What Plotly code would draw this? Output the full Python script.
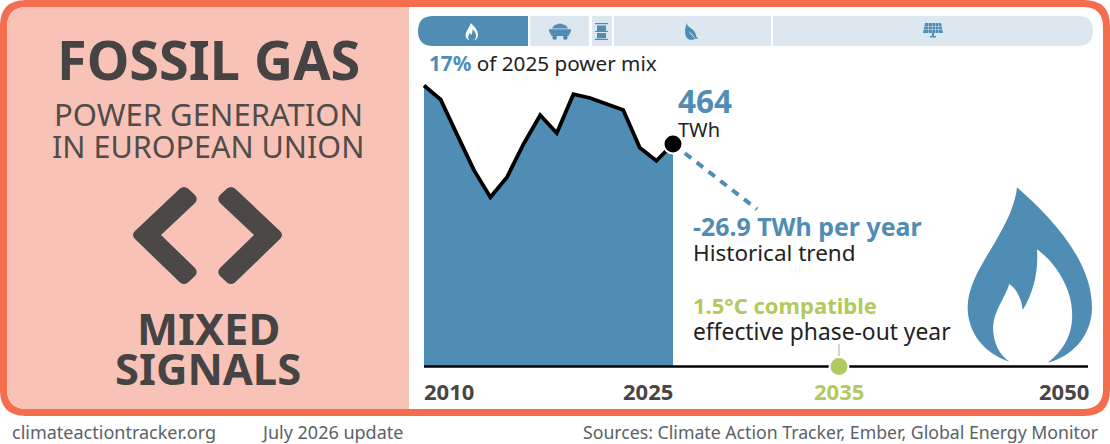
import re
import plotly.graph_objects as go

# ---- data ----
years = [2010, 2011, 2012, 2013, 2014, 2015, 2016, 2017, 2018, 2019, 2020, 2021, 2022, 2023, 2024, 2025]
generation_twh = [586, 557, 483, 410, 353, 395, 464, 524, 487, 568, 560, 547, 535, 456, 429, 464]
trend_years = [2025, 2030.06]
trend_twh = [464, 328]
axis_years = [2010, 2025, 2035, 2050]
axis_anchor = ["left", "right", "center", "right"]
axis_shift = [-2, 2, 0, 3]
axis_colors = ["#4a4545", "#4a4545", "#b2c95f", "#4a4545"]
phaseout_year = [2035]
phaseout_twh = [0]

W, H = 1110, 444
BASE_Y, PX_YEAR, PX_TWH = 366.5, 16.6, 0.4795
X0 = 2010 - 424 / PX_YEAR
Y_MIN = -(H - BASE_Y) / PX_TWH
Y_MAX = BASE_Y / PX_TWH

BLUE = "#4f8db5"
LIGHT = "#dce7f0"
CORAL = "#f46d4e"
PINK = "#f9c2b6"
GREEN = "#b2c95f"
DARK = "#454343"
INK = "#222222"
FONT = "Noto Sans"


def P(path):
    """Pixel path -> paper path."""
    toks = re.findall(r"[MLCQZ]|-?[\d.]+", path)
    out, is_x = [], True
    for t in toks:
        if t in "MLCQZ":
            out.append(t)
            is_x = True
        else:
            v = float(t)
            out.append(f"{v / W:.5f}" if is_x else f"{1 - v / H:.5f}")
            is_x = not is_x
    return " ".join(out)


shapes = []


def add(path, fill, line=None, lw=0):
    shapes.append(dict(type="path", xref="paper", yref="paper", path=P(path), fillcolor=fill,
                       line=dict(color=line or fill, width=lw), layer="below"))


def rrect(x0, y0, x1, y1, rl=0, rr=0):
    return (f"M {x0 + rl} {y0} L {x1 - rr} {y0} Q {x1} {y0} {x1} {y0 + rr} L {x1} {y1 - rr} "
            f"Q {x1} {y1} {x1 - rr} {y1} L {x0 + rl} {y1} Q {x0} {y1} {x0} {y1 - rl} L {x0} {y0 + rl} "
            f"Q {x0} {y0} {x0 + rl} {y0} Z")


def rpanel(x0, y0, x1, y1, rtl, rtr, rbr, rbl):
    return (f"M {x0 + rtl} {y0} L {x1 - rtr} {y0} Q {x1} {y0} {x1} {y0 + rtr} L {x1} {y1 - rbr} "
            f"Q {x1} {y1} {x1 - rbr} {y1} L {x0 + rbl} {y1} Q {x0} {y1} {x0} {y1 - rbl} L {x0} {y0 + rtl} "
            f"Q {x0} {y0} {x0 + rtl} {y0} Z")


def rect(x0, y0, x1, y1):
    return f"M {x0} {y0} L {x1} {y0} L {x1} {y1} L {x0} {y1} Z"


def circle(cx, cy, r):
    k = r * 0.5523
    return (f"M {cx - r} {cy} C {cx - r} {cy - k} {cx - k} {cy - r} {cx} {cy - r} "
            f"C {cx + k} {cy - r} {cx + r} {cy - k} {cx + r} {cy} "
            f"C {cx + r} {cy + k} {cx + k} {cy + r} {cx} {cy + r} "
            f"C {cx - k} {cy + r} {cx - r} {cy + k} {cx - r} {cy} Z")


# frame
add(rrect(0, 0, 1110, 416, 26, 26), CORAL)
add(rrect(7, 7, 1103, 409, 20, 20), "#ffffff")
add(rpanel(7, 7, 409, 409, 20, 0, 0, 20), PINK)

# segmented bar
add(rpanel(418, 16, 528, 46, 15, 0, 0, 15), BLUE)
add(rrect(530, 16, 589, 46), LIGHT)
add(rrect(592, 16, 612, 46), LIGHT)
add(rrect(614, 16, 771, 46), LIGHT)
add(rpanel(773, 16, 1093, 46, 0, 15, 15, 0), LIGHT)

# flame outline, in a 375x526 box
FLAME = [
    ("M", [(150, 0)]),
    ("C", [(235, 75), (375, 210), (375, 360)]),
    ("C", [(375, 450), (310, 510), (242, 526)]),
    ("C", [(290, 490), (320, 440), (315, 370)]),
    ("C", [(312, 300), (265, 225), (210, 186)]),
    ("C", [(215, 250), (200, 315), (167, 368)]),
    ("C", [(165, 340), (150, 305), (127, 290)]),
    ("C", [(115, 330), (80, 370), (78, 420)]),
    ("C", [(78, 470), (100, 505), (127, 523)]),
    ("C", [(55, 500), (0, 440), (2, 355)]),
    ("C", [(5, 280), (60, 210), (95, 145)]),
    ("C", [(125, 95), (145, 45), (150, 0)]),
]


def flame(ox, oy, s):
    d = ""
    for c, pts in FLAME:
        d += c + " " + " ".join(f"{ox + x * s:.2f} {oy + y * s:.2f}" for x, y in pts) + " "
    return d + "Z"


add(flame(967, 187.3, 1 / 3), BLUE)
add(flame(465.5, 23, 0.0335), "#ffffff")

# coal wagon
add("M 552 28.5 Q 554 24.5 557 24.5 Q 560 22.5 563 24.5 Q 566 24.5 568 28.5 Z", BLUE)
add("M 549 29.3 L 571 29.3 L 571 31 L 568.5 36 L 551.5 36 L 549 31 Z", BLUE)
add(circle(554.7, 37.6, 2.3), BLUE)
add(circle(565.3, 37.6, 2.3), BLUE)
# barrel
add(rect(595, 23, 608, 24.2), BLUE)
add(rect(597, 25.5, 606, 31), BLUE)
add(rect(595, 31, 608, 32), BLUE)
add(rect(597, 33, 606, 38.2), BLUE)
add(rect(595, 38.8, 608, 40), BLUE)
# leaf drop
add("M 686.8 23 C 687 27 692 28 694 31 C 696 33.5 696 35.5 696.5 37 L 698 38.2 L 697.6 39 L 695.8 38.4 "
    "C 693 40.3 689 40.5 687 38 C 684.5 35 684.5 29 686.8 23 Z", BLUE)
add("M 688.5 31 C 691 33 693 35 695 38 L 694.5 38.3 C 692 35.5 690 33.5 688.5 31 Z", LIGHT)
# solar panel
add("M 925 23 L 941 23 L 943 33 L 923 33 Z", BLUE)
for xa, xb in [(928.5, 928), (932, 931.7), (935, 935), (938, 938.4)]:
    add(f"M {xa} 23 L {xa + 0.5} 23 L {xb + 0.5} 33 L {xb} 33 Z", LIGHT)
add(rect(924, 26, 942, 26.5), LIGHT)
add(rect(923.6, 29.5, 942.4, 30), LIGHT)
add("M 932 33 L 934 33 L 934 36 L 936 36 L 936 37.5 L 930 37.5 L 930 36 L 932 36 Z", BLUE)

# chevrons
add("M 180 188.5 Q 184 185.5 188 188.5 L 195 195 Q 198.5 199 195 203 L 161 235 L 195 268 "
    "Q 198.5 272 195 276 L 188 282.5 Q 184 285.5 180 282.5 L 135 239 Q 131 235 135 231 Z", "#4c4848")
add("M 235 188.5 Q 231 185.5 227 188.5 L 220 195 Q 216.5 199 220 203 L 254 235 L 220 268 "
    "Q 216.5 272 220 276 L 227 282.5 Q 231 285.5 235 282.5 L 280 239 Q 284 235 280 231 Z", "#4c4848")

# leader line above the phase-out dot
shapes.append(dict(type="line", xref="x", yref="paper", x0=2035, x1=2035,
                   y0=1 - 358 / H, y1=1 - 344 / H, line=dict(color="#a8a8a8", width=1), layer="below"))

fig = go.Figure()
fig.add_trace(go.Scatter(x=years, y=generation_twh, mode="none", fill="tozeroy", fillcolor=BLUE, hoverinfo="skip"))
fig.add_trace(go.Scatter(x=trend_years, y=trend_twh, mode="lines", hoverinfo="skip",
                         line=dict(color=BLUE, width=4, dash="8px,7px")))
fig.add_trace(go.Scatter(x=years, y=generation_twh, mode="lines", hoverinfo="skip",
                         line=dict(color="#000000", width=3.8)))
fig.add_trace(go.Scatter(x=[axis_years[0], axis_years[-1]], y=[0, 0], mode="lines", hoverinfo="skip",
                         line=dict(color="#000000", width=2.6)))
fig.add_trace(go.Scatter(x=years[-1:], y=generation_twh[-1:], mode="markers", hoverinfo="skip",
                         marker=dict(color="#000000", size=19, line=dict(color="#ffffff", width=2))))
fig.add_trace(go.Scatter(x=phaseout_year, y=phaseout_twh, mode="markers", hoverinfo="skip",
                         marker=dict(color=GREEN, size=19, line=dict(color="#ffffff", width=2))))

ann = []


def text(px, py, s, size, color=INK, anchor="left", bold=False):
    ann.append(dict(x=px / W, y=1 - py / H, xref="paper", yref="paper", text=f"<b>{s}</b>" if bold else s,
                    showarrow=False, xanchor=anchor, yanchor="middle",
                    font=dict(family=FONT, size=size, color=color), align=anchor))


text(208, 59, "FOSSIL GAS", 54, DARK, "center", True)
text(208, 114, "POWER GENERATION", 31, "#4f4c4c", "center")
text(208, 146, "IN EUROPEAN UNION", 30.5, "#4f4c4c", "center")
text(208, 328, "MIXED", 43.5, DARK, "center", True)
text(208, 368, "SIGNALS", 43.5, DARK, "center", True)

text(427, 63, f'<b><span style="color:{BLUE}">17%</span></b> of 2025 power mix', 20.7)
text(676, 100, "464", 31.5, BLUE, bold=True)
text(676, 129, "TWh", 20)
text(691, 226, "-26.9 TWh per year", 24.9, BLUE, bold=True)
text(691, 253, "Historical trend", 22.5)
text(691, 305, "1.5°C compatible", 22, GREEN, bold=True)
text(691, 331, "effective phase-out year", 22.8)

text(10, 432, "climateactiontracker.org", 18, "#5a6266")
text(259, 432, "July 2026 update", 18, "#5a6266")
text(1101, 432, "Sources: Climate Action Tracker, Ember, Global Energy Monitor", 17.7, "#5a6266", "right")

for yr, a, c, sh in zip(axis_years, axis_anchor, axis_colors, axis_shift):
    ann.append(dict(x=yr, y=0, xref="x", yref="y", yshift=-24.5, xshift=sh, text=f"<b>{yr}</b>", showarrow=False,
                    xanchor=a, yanchor="middle", font=dict(family=FONT, size=22, color=c)))

fig.update_layout(
    width=W, height=H, margin=dict(l=0, r=0, t=0, b=0), showlegend=False,
    paper_bgcolor="#ffffff", plot_bgcolor="rgba(0,0,0,0)", shapes=shapes, annotations=ann,
    xaxis=dict(range=[X0, X0 + W / PX_YEAR], visible=False, fixedrange=True),
    yaxis=dict(range=[Y_MIN, Y_MAX], visible=False, fixedrange=True),
)
fig.write_html("out.html", config=dict(displayModeBar=False),
               post_script="document.body.style.margin='0';document.body.style.overflow='hidden';")
